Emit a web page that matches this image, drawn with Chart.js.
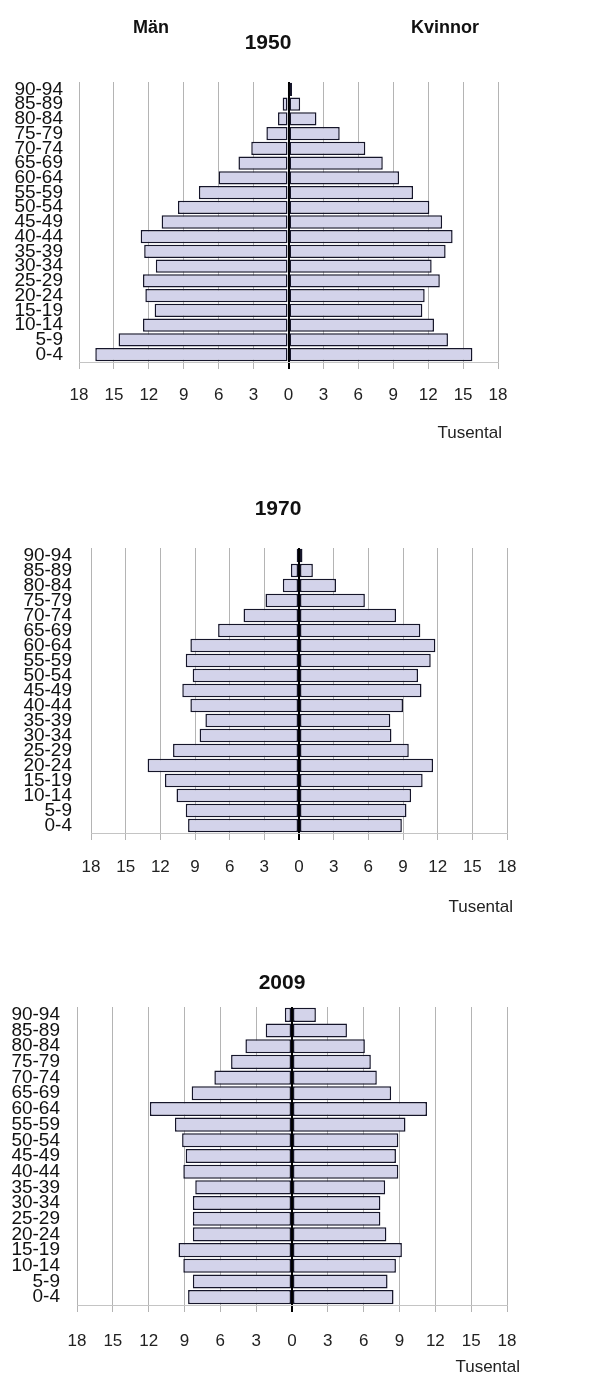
<!DOCTYPE html>
<html>
<head>
<meta charset="utf-8">
<script src="https://cdn.jsdelivr.net/npm/chart.js@4"></script>
<style>
  body { margin: 0; background: #fff; width: 594px; height: 1381px; position: relative; overflow: hidden; }
  .box { position: absolute; left: 0; width: 594px; }
</style>
</head>
<body>
<div class="box" style="top:0px;height:460px"><canvas id="p1950"></canvas></div>
<div class="box" style="top:460px;height:470px"><canvas id="p1970"></canvas></div>
<div class="box" style="top:940px;height:441px"><canvas id="p2009"></canvas></div>
<script>
const ages = ["0-4", "5-9", "10-14", "15-19", "20-24", "25-29", "30-34", "35-39", "40-44",
  "45-49", "50-54", "55-59", "60-64", "65-69", "70-74", "75-79", "80-84", "85-89", "90-94"];
const xTicks = [-18, -15, -12, -9, -6, -3, 0, 3, 6, 9, 12, 15, 18];

// tusental, från 0-4 upp till 90-94
const men1950 = [16.6, 14.6, 12.5, 11.5, 12.3, 12.5, 11.4, 12.4, 12.7, 10.9, 9.5, 7.7, 6.0, 4.3, 3.2, 1.9, 0.9, 0.5, 0.1];
const women1950 = [15.8, 13.7, 12.5, 11.5, 11.7, 13.0, 12.3, 13.5, 14.1, 13.2, 12.1, 10.7, 9.5, 8.1, 6.6, 4.4, 2.4, 1.0, 0.3];
const men1970 = [9.6, 9.8, 10.6, 11.6, 13.1, 10.9, 8.6, 8.1, 9.4, 10.1, 9.2, 9.8, 9.4, 7.0, 4.8, 2.9, 1.4, 0.7, 0.2];
const women1970 = [8.9, 9.3, 9.7, 10.7, 11.6, 9.5, 8.0, 7.9, 9.0, 10.6, 10.3, 11.4, 11.8, 10.5, 8.4, 5.7, 3.2, 1.2, 0.3];
const men2009 = [8.7, 8.3, 9.1, 9.5, 8.3, 8.3, 8.3, 8.1, 9.1, 8.9, 9.2, 9.8, 11.9, 8.4, 6.5, 5.1, 3.9, 2.2, 0.6];
const women2009 = [8.5, 8.0, 8.7, 9.2, 7.9, 7.4, 7.4, 7.8, 8.9, 8.7, 8.9, 9.5, 11.3, 8.3, 7.1, 6.6, 6.1, 4.6, 2.0];

const FONT = "'Liberation Sans', Arial, sans-serif";
const barFill = "#d3d3ea";
const barLine = "#15152a";

const textsPlugin = {
  id: "texts",
  afterDraw(chart, args, o) {
    const c = chart.ctx;
    c.save();
    c.fillStyle = "#111";
    c.textBaseline = "middle";
    c.textAlign = "center";
    c.font = "bold 21px " + FONT;
    c.fillText(o.title, o.titleX, o.titleY);
    if (o.sexes) {
      c.font = "bold 18px " + FONT;
      c.fillText("Män", o.sexes[0], o.sexes[2]);
      c.fillText("Kvinnor", o.sexes[1], o.sexes[2]);
    }
    c.textAlign = "right";
    c.font = "17px " + FONT;
    c.fillStyle = "#222";
    c.fillText("Tusental", o.unitX, o.unitY);
    c.restore();
  }
};

function bars(label, values) {
  return {
    label: label,
    data: values,
    backgroundColor: barFill,
    borderColor: barLine,
    borderWidth: 1.5,
    borderSkipped: false,
    barPercentage: 0.9,
    categoryPercentage: 1
  };
}

function pyramid(id, men, women, g) {
  new Chart(document.getElementById(id), {
    type: "bar",
    data: {
      labels: ages,
      datasets: [
        bars("Män", men.map(v => -v)),
        bars("Kvinnor", women)
      ]
    },
    options: {
      indexAxis: "y",
      responsive: true,
      maintainAspectRatio: false,
      animation: false,
      layout: { padding: { top: g.top, right: g.right, left: 0, bottom: 0 } },
      scales: {
        x: {
          stacked: true,
          min: -18,
          max: 18,
          afterBuildTicks: s => { s.ticks = xTicks.map(v => ({ value: v })); },
          afterFit: s => { s.height = g.xh; },
          ticks: {
            callback: v => Math.abs(v),
            color: "#222",
            font: { family: FONT, size: 17 },
            padding: g.tpad,
            maxRotation: 0
          },
          grid: {
            color: c => c.tick && c.tick.value === 0 ? "#000" : "#b4b4b4",
            lineWidth: c => c.tick && c.tick.value === 0 ? 2 : 1,
            drawTicks: true,
            tickLength: 7
          },
          border: { color: "#c4c4c4" }
        },
        y: {
          stacked: true,
          reverse: true,
          afterFit: s => { s.width = g.left; },
          ticks: {
            autoSkip: false,
            color: "#111",
            font: { family: FONT, size: 19 },
            padding: g.ypad
          },
          grid: { display: false, drawTicks: false },
          border: { display: false }
        }
      },
      plugins: {
        legend: { display: false },
        tooltip: { enabled: false },
        texts: g.texts
      }
    },
    plugins: [textsPlugin]
  });
}

pyramid("p1950", men1950, women1950, {
  top: 82, right: 96, left: 79, xh: 98, tpad: 16, ypad: 16,
  texts: { title: "1950", titleX: 268, titleY: 43, sexes: [151, 445, 28], unitX: 502, unitY: 433 }
});
pyramid("p1970", men1970, women1970, {
  top: 88, right: 87, left: 91, xh: 97, tpad: 17, ypad: 19,
  texts: { title: "1970", titleX: 278, titleY: 49, unitX: 513, unitY: 447 }
});
pyramid("p2009", men2009, women2009, {
  top: 67, right: 87, left: 77, xh: 76, tpad: 19, ypad: 17,
  texts: { title: "2009", titleX: 282, titleY: 43, unitX: 520, unitY: 427 }
});
</script>
</body>
</html>
